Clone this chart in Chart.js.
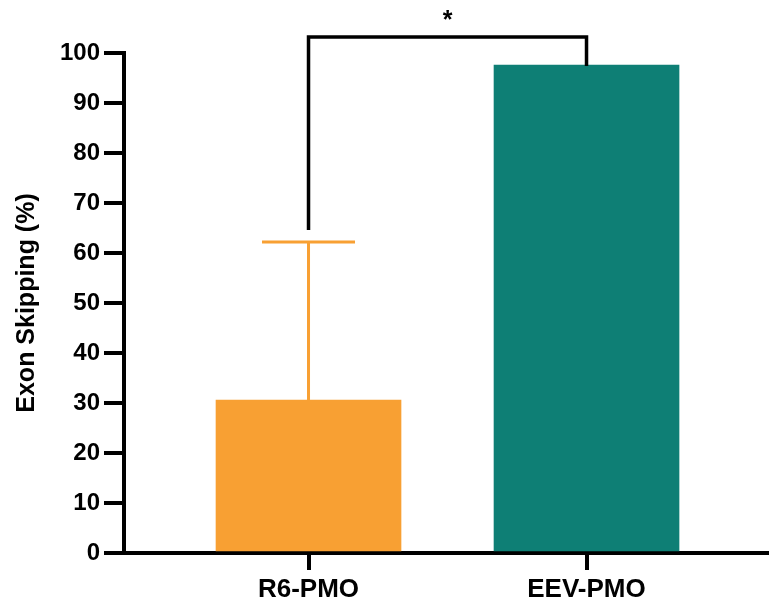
<!DOCTYPE html>
<html>
<head>
<meta charset="utf-8">
<script src="https://cdn.jsdelivr.net/npm/chart.js@4/dist/chart.umd.min.js"></script>
<style>
html,body{margin:0;padding:0;background:#fff;}
#wrap{width:769px;height:601px;}
</style>
</head>
<body>
<div id="wrap"><canvas id="c" width="769" height="601"></canvas></div>
<script>
const categories = ['R6-PMO', 'EEV-PMO'];
const values = [30.6, 97.6];
const errors = [31.6, 0];
const barColors = ['#F8A033', '#0E7F75'];
const yTicks = [0,10,20,30,40,50,60,70,80,90,100];
// significance bracket (in data units)
const bracketTop = 103.2;
const bracketLeftStart = 64.6;
const bracketRightStart = 97.4;
const sigLabel = '*';

const FONT = '"Liberation Sans", Arial, sans-serif';

const overlay = {
  id: 'overlay',
  afterDatasetsDraw(chart) {
    const ctx = chart.ctx;
    const xs = chart.scales.x, ys = chart.scales.y;
    ctx.save();
    // error bars
    values.forEach((v, i) => {
      if (!errors[i]) return;
      const x = xs.getPixelForValue(i);
      const y0 = ys.getPixelForValue(v);
      const y1 = ys.getPixelForValue(v + errors[i]);
      ctx.strokeStyle = barColors[i];
      ctx.lineWidth = 3;
      ctx.beginPath();
      ctx.moveTo(x, y0);
      ctx.lineTo(x, y1);
      ctx.moveTo(x - 46.5, y1);
      ctx.lineTo(x + 46.5, y1);
      ctx.stroke();
    });
    // bracket
    const xl = xs.getPixelForValue(0), xr = xs.getPixelForValue(1);
    const yt = ys.getPixelForValue(bracketTop);
    ctx.strokeStyle = '#000';
    ctx.lineWidth = 3.5;
    ctx.lineJoin = 'miter';
    ctx.beginPath();
    ctx.moveTo(xl, ys.getPixelForValue(bracketLeftStart));
    ctx.lineTo(xl, yt);
    ctx.lineTo(xr, yt);
    ctx.lineTo(xr, ys.getPixelForValue(bracketRightStart));
    ctx.stroke();
    ctx.fillStyle = '#000';
    ctx.font = 'bold 25px ' + FONT;
    ctx.textAlign = 'center';
    ctx.textBaseline = 'middle';
    ctx.fillText(sigLabel, (xl + xr) / 2, yt - 16);
    ctx.restore();
  }
};

new Chart(document.getElementById('c'), {
  type: 'bar',
  data: {
    datasets: [{
      data: values.map((v, i) => ({x: i, y: v})),
      backgroundColor: barColors,
      borderWidth: 0,
      barThickness: 185
    }]
  },
  options: {
    responsive: false,
    animation: false,
    devicePixelRatio: 1,
    layout: {padding: {top: 53, right: 0, left: 0, bottom: 0}},
    plugins: {legend: {display: false}, tooltip: {enabled: false}},
    scales: {
      x: {
        type: 'linear',
        offset: false,
        min: -0.6637,
        max: 1.6564,
        afterBuildTicks: (s) => { s.ticks = categories.map((c, i) => ({value: i})); },
        afterFit: (s) => { s.height = 48; },
        ticks: {
          callback: (v) => categories[v],
          color: '#000',
          font: {family: FONT, size: 26, weight: 'bold'},
          padding: 4,
          maxRotation: 0,
          autoSkip: false
        },
        grid: {offset: false, drawOnChartArea: false, drawTicks: true, tickLength: 17, lineWidth: 4, color: '#000'},
        border: {display: true, width: 4, color: '#000'}
      },
      y: {
        min: 0,
        max: 100,
        afterBuildTicks: (s) => { s.ticks = yTicks.map(v => ({value: v})); },
        afterFit: (s) => { s.width = 124; },
        ticks: {
          color: '#000',
          font: {family: FONT, size: 24, weight: 'bold'},
          padding: 4
        },
        grid: {drawOnChartArea: false, drawTicks: true, tickLength: 20, lineWidth: 4, color: '#000'},
        border: {display: true, width: 4, color: '#000'},
        title: {
          display: true,
          text: 'Exon Skipping (%)',
          color: '#000',
          font: {family: FONT, size: 25, weight: 'bold'},
          padding: {top: 12, bottom: 0}
        }
      }
    }
  },
  plugins: [overlay]
});
</script>
</body>
</html>
